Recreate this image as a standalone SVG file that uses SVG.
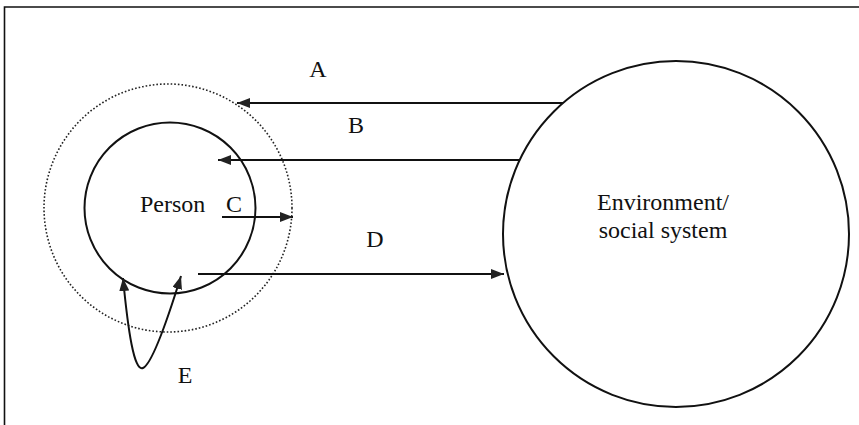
<svg xmlns="http://www.w3.org/2000/svg" width="859" height="425" viewBox="0 0 859 425">
  <defs>
    <style>
      .lbl { font-family: "Liberation Serif", "Times New Roman", serif; font-size: 24px; fill: #111; }
      .solid { fill: none; stroke: #111; stroke-width: 2; }
      .dotted { fill: none; stroke: #222; stroke-width: 1.6; stroke-dasharray: 1.6 2; }
      .arrow { fill: none; stroke: #111; stroke-width: 2; marker-end: url(#ah); }
    </style>
    <marker id="ah" viewBox="0 0 13 10" refX="13" refY="5" markerWidth="13" markerHeight="10" markerUnits="userSpaceOnUse" orient="auto-start-reverse">
      <path d="M0,0 L13,5 L0,10 z" fill="#222"/>
    </marker>
  </defs>
  <rect width="859" height="425" fill="#fff"/>
  <g id="frame">
    <path d="M4.5,425 L4.5,7 L859,7" fill="none" stroke="#111" stroke-width="1.6"/>
  </g>
  <g id="person-zone">
    <circle cx="168" cy="208" r="124" class="dotted"/>
  </g>
  <g id="person">
    <circle cx="170" cy="208" r="85.5" class="solid"/>
    <text x="140" y="212" class="lbl">Person</text>
  </g>
  <g id="environment">
    <circle cx="676" cy="234" r="173" class="solid"/>
    <text x="663" y="210" class="lbl" text-anchor="middle">Environment/</text>
    <text x="663" y="238" class="lbl" text-anchor="middle">social system</text>
  </g>
  <g id="connectors">
    <line x1="563" y1="103" x2="237" y2="103" class="arrow"/>
    <line x1="520" y1="160" x2="218" y2="160" class="arrow"/>
    <line x1="222" y1="217" x2="293" y2="217" class="arrow"/>
    <line x1="198" y1="274" x2="504" y2="274" class="arrow"/>
    <path d="M123,278 C128,330 134,372 143,368 C152,364 168,318 181,276" class="arrow" style="marker-start:url(#ah)"/>
  </g>
  <g id="labels">
    <text x="318" y="77" class="lbl" text-anchor="middle">A</text>
    <text x="356" y="133" class="lbl" text-anchor="middle">B</text>
    <text x="234" y="212" class="lbl" text-anchor="middle">C</text>
    <text x="375" y="247" class="lbl" text-anchor="middle">D</text>
    <text x="185" y="383" class="lbl" text-anchor="middle">E</text>
  </g>
</svg>
